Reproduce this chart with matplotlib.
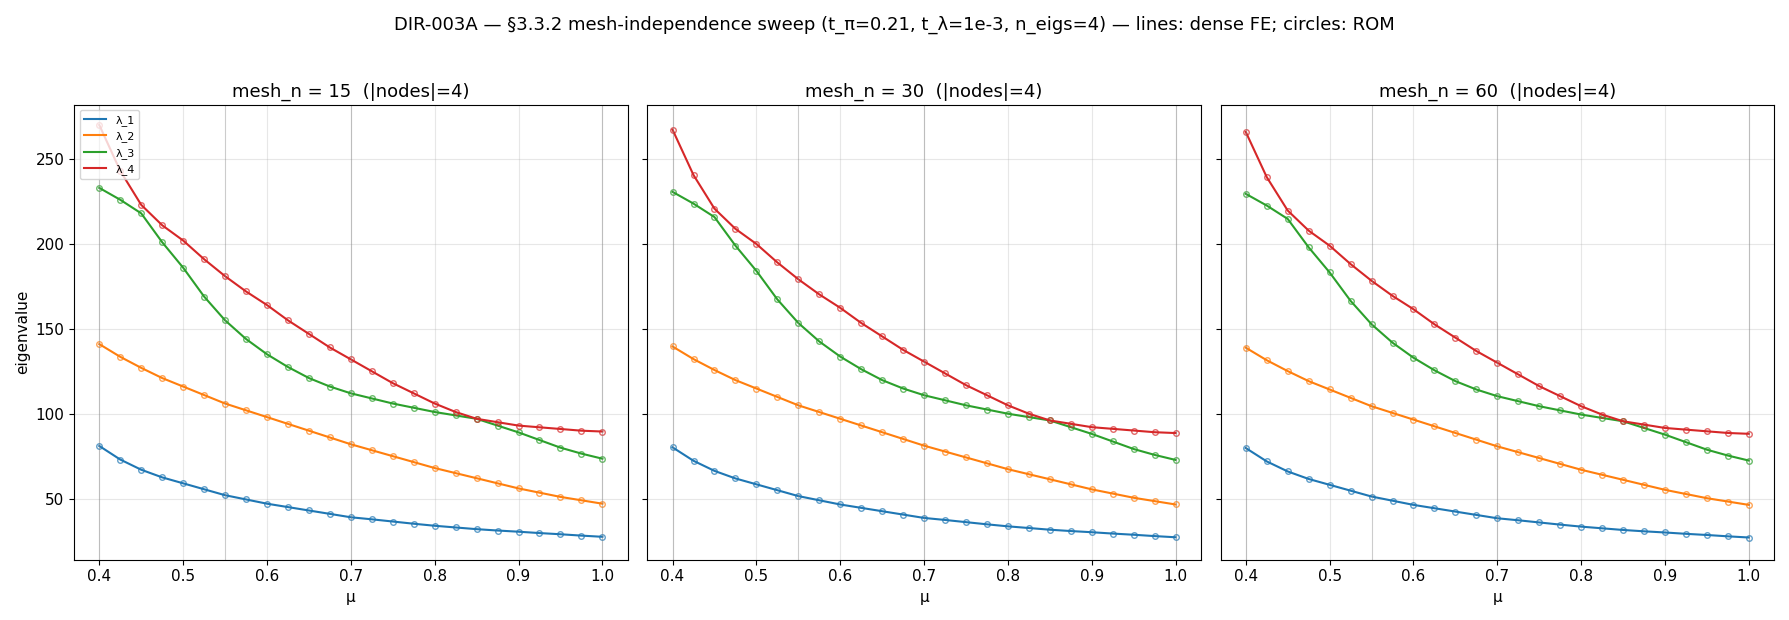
import numpy as np
import matplotlib.pyplot as plt

# parameter samples (every 0.025)
mu = np.linspace(0.4, 1.0, 25)
nodes = [0.4, 0.55, 0.7, 1.0]

lam1 = [81, 73, 67, 62.5, 59, 55.5, 52, 49.5, 47, 45, 43, 41, 39, 37.8, 36.5,
        35.2, 34, 33, 32, 31.2, 30.5, 29.7, 29, 28.2, 27.5]
lam2 = [141, 133.5, 127, 121, 116, 111, 106, 102, 98, 94, 90, 86, 82, 78.5, 75,
        71.5, 68, 65, 62, 59, 56, 53.5, 51, 49, 47]
lam3 = [233, 226, 218, 201, 186, 169, 155, 144, 135, 127.5, 121, 116, 112, 109,
        106, 103.5, 101, 99, 97, 93, 89, 84.5, 80, 76.5, 73.5]
lam4 = [270, 243, 223, 211, 202, 191, 181, 172, 164, 155, 147, 139, 132, 125,
        118, 112, 106, 101, 97, 95, 93, 92, 91, 90, 89.5]

meshes = [15, 30, 60]
mesh_scale = [1.0, 0.99, 0.985]  # finer meshes sit slightly lower

colors = ['tab:blue', 'tab:orange', 'tab:green', 'tab:red']
curves = [lam1, lam2, lam3, lam4]

fig, axes = plt.subplots(1, 3, figsize=(17.89, 6.2), dpi=100, sharey=True)

for ax, n, s in zip(axes, meshes, mesh_scale):
    for k, (c, vals) in enumerate(zip(colors, curves)):
        v = np.array(vals) * s
        ax.plot(mu, v, color=c, lw=1.5, label=f'λ_{k+1}')
        ax.plot(mu, v, 'o', mfc='none', mec=c, ms=4, alpha=0.7)
    for x in nodes:
        ax.axvline(x, color='gray', lw=0.8, alpha=0.4)
    ax.grid(alpha=0.3)
    ax.set_title(f'mesh_n = {n}  (|nodes|=4)', fontsize=13)
    ax.set_xlabel('μ', fontsize=11)
    ax.tick_params(labelsize=11)

axes[0].set_ylabel('eigenvalue', fontsize=11)
axes[0].set_ylim(14, 282)
axes[0].legend(loc='upper left', fontsize=8)

fig.suptitle('DIR-003A — §3.3.2 mesh-independence sweep (t_π=0.21, t_λ=1e-3, n_eigs=4)'
             ' — lines: dense FE; circles: ROM', fontsize=13, y=0.975)
fig.tight_layout(rect=[0, 0, 1, 0.945])
fig.savefig('out.png')
